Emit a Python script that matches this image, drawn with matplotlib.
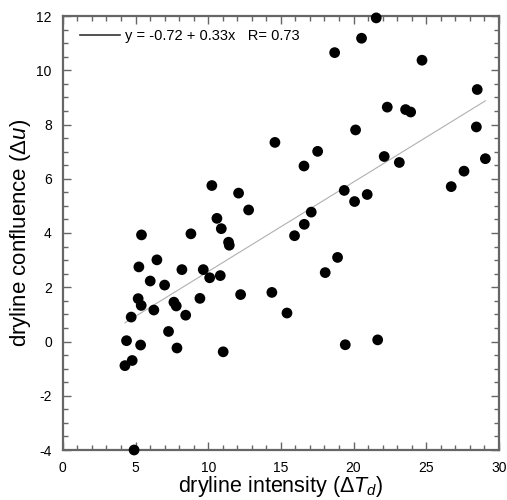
import matplotlib
matplotlib.use("Agg")
import matplotlib.pyplot as plt
import numpy as np
from matplotlib.lines import Line2D
from matplotlib.ticker import MultipleLocator

# dryline intensity (x) vs dryline confluence (y)
dT = [14.59, 10.25, 12.09, 12.78, 10.60, 10.90, 5.41, 8.81,
      21.56, 20.55, 18.70, 24.71, 28.51, 22.32, 23.58, 23.93,
      20.14, 28.45, 17.53, 16.59, 22.11, 23.15, 29.07, 27.60,
      26.72, 19.36, 20.07, 20.94, 17.09, 16.61, 15.94, 11.40,
      11.45, 5.23, 6.47, 6.01, 7.00, 8.19, 9.66, 10.10,
      10.83, 12.23, 14.38, 15.42, 5.18, 5.39, 6.26, 7.64,
      7.80, 8.45, 9.43, 4.70, 7.27, 4.38, 5.35, 7.85,
      11.03, 4.77, 4.27, 4.90, 18.90, 18.05, 19.43, 21.66]
du = [7.34, 5.75, 5.47, 4.85, 4.54, 4.16, 3.93, 3.97,
      11.93, 11.18, 10.65, 10.37, 9.29, 8.64, 8.55, 8.46,
      7.80, 7.91, 7.01, 6.47, 6.82, 6.60, 6.74, 6.28,
      5.71, 5.57, 5.16, 5.42, 4.77, 4.32, 3.90, 3.66,
      3.55, 2.75, 3.01, 2.23, 2.08, 2.65, 2.65, 2.35,
      2.43, 1.73, 1.81, 1.05, 1.58, 1.33, 1.16, 1.45,
      1.31, 0.97, 1.59, 0.90, 0.37, 0.03, -0.13, -0.24,
      -0.38, -0.70, -0.89, -4.00, 3.10, 2.54, -0.12, 0.06]

# fit as printed on the figure
intercept = -0.72
slope = 0.33
r_value = 0.73

plt.rcParams["font.family"] = ["Liberation Sans", "DejaVu Sans"]
plt.rcParams["mathtext.fontset"] = "custom"
plt.rcParams["mathtext.rm"] = "Liberation Sans"
plt.rcParams["mathtext.it"] = "Liberation Sans:italic"
plt.rcParams["axes.unicode_minus"] = False

fig = plt.figure(figsize=(5.07, 5.00), dpi=100)
ax = fig.add_axes([0.124, 0.100, 0.860, 0.868])

x = np.asarray(dT)
y = np.asarray(du)
ax.scatter(x, y, s=60, color="black", edgecolors="none", zorder=3, clip_on=False)

xf = np.array([x.min(), x.max()])
ax.plot(xf, intercept + slope * xf, color="#b0b0b0", linewidth=0.8, zorder=2)

handle = Line2D([], [], color="#333333", linewidth=1.2)
ax.legend([handle], [f"y = {intercept:.2f} + {slope:.2f}x   R= {r_value:.2f}"],
          loc="upper left", frameon=False, fontsize=10.5, handlelength=2.75,
          handletextpad=0.35, borderaxespad=0.0, bbox_to_anchor=(0.026, 0.984))

ax.set_xlim(0, 30)
ax.set_ylim(-4, 12)
ax.xaxis.set_major_locator(MultipleLocator(5))
ax.xaxis.set_minor_locator(MultipleLocator(1))
ax.yaxis.set_major_locator(MultipleLocator(2))
ax.yaxis.set_minor_locator(MultipleLocator(0.5))
ax.tick_params(which="both", direction="in", top=True, right=True,
               color="#666666", labelsize=10, width=1.0)
ax.tick_params(which="major", length=6)
ax.tick_params(which="minor", length=3.5)
ax.tick_params(axis="x", which="major", pad=8)
ax.tick_params(axis="y", which="major", pad=8)
for sp in ax.spines.values():
    sp.set_color("#666666")
    sp.set_linewidth(1.6)

ax.set_xlabel(r"dryline intensity ($\Delta T_d$)", fontsize=15.5)
ax.set_ylabel(r"dryline confluence ($\Delta u$)", fontsize=16)
ax.xaxis.set_label_coords(0.5, -0.056)
ax.yaxis.set_label_coords(-0.069, 0.5)

fig.savefig("out.png", dpi=100)
